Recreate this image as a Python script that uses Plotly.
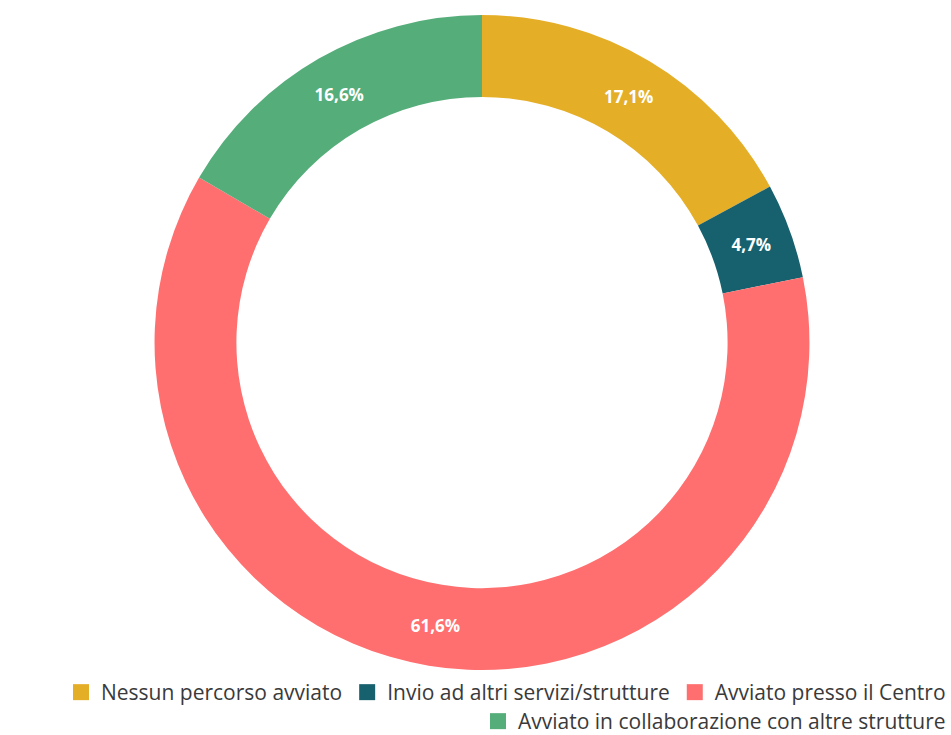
import plotly.graph_objects as go

categories = [
    "Nessun percorso avviato",
    "Invio ad altri servizi/strutture",
    "Avviato presso il Centro",
    "Avviato in collaborazione con altre strutture",
]
shares = [17.1, 4.7, 61.6, 16.6]
share_labels = ["17,1%", "4,7%", "61,6%", "16,6%"]
colors = ["#E5AE27", "#17616E", "#FF6F6F", "#55AD7A"]
legend_rows = ["legend", "legend", "legend", "legend2"]

W, H = 951, 735
LEG1_TOP, LEG2_TOP = 672, 701      # legend rows, px from top
PLOT_H = LEG1_TOP - 3              # plot area ends where the legend band begins
RING_TOP, RING_BOTTOM = 15, 667    # ring extent, px from top

fig = go.Figure()
fig.add_trace(
    go.Pie(
        labels=categories,
        values=shares,
        text=share_labels,
        textinfo="text",
        textposition="inside",
        insidetextorientation="horizontal",
        textfont=dict(family="Open Sans", size=17, color="white", weight="bold"),
        marker=dict(colors=colors, line=dict(width=0)),
        hole=0.75,
        sort=False,
        direction="clockwise",
        rotation=0,
        showlegend=False,
        hoverinfo="label+percent",
        domain=dict(
            x=[13 / W, 1],
            y=[max(0, (PLOT_H - RING_BOTTOM) / PLOT_H), (PLOT_H - RING_TOP) / PLOT_H],
        ),
    )
)

# legend swatches (the pie legend cannot wrap unevenly, so entries are split over two legends)
for name, col, lg in zip(categories, colors, legend_rows):
    fig.add_trace(
        go.Scatter(
            x=[None],
            y=[None],
            mode="markers",
            name=name,
            marker=dict(symbol="square", size=16, color=col),
            legend=lg,
            hoverinfo="skip",
        )
    )

legend_style = dict(
    orientation="h",
    xref="container",
    yref="container",
    x=1,
    xanchor="right",
    yanchor="top",
    font=dict(family="Open Sans", size=21, color="#3a3a3a"),
    itemwidth=30,
    traceorder="normal",
    bgcolor="rgba(0,0,0,0)",
)

fig.update_layout(
    width=W,
    height=H,
    paper_bgcolor="white",
    plot_bgcolor="white",
    margin=dict(l=0, r=0, t=0, b=0),
    xaxis=dict(visible=False),
    yaxis=dict(visible=False),
    showlegend=True,
    legend=dict(legend_style, y=(H - LEG1_TOP) / H),
    legend2=dict(legend_style, y=(H - LEG2_TOP) / H),
)

fig.write_html("out.html")
